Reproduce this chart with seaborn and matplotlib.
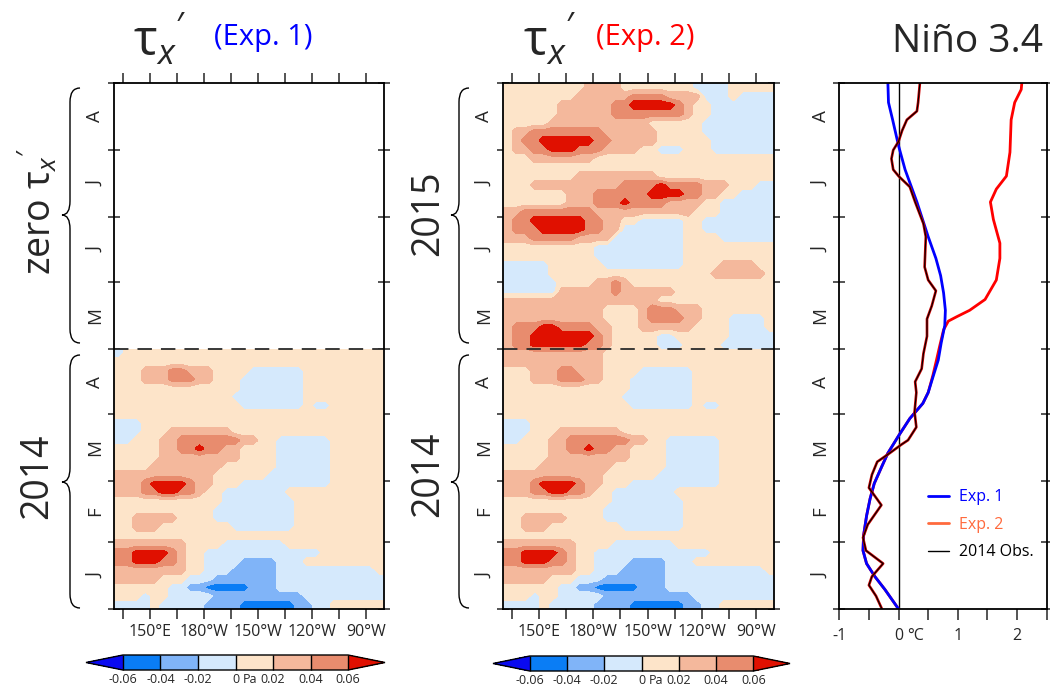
import numpy as np
import matplotlib
matplotlib.use("Agg")
import matplotlib.pyplot as plt
import seaborn as sns
from matplotlib.colors import ListedColormap
from matplotlib.lines import Line2D
from matplotlib.path import Path
from matplotlib.patches import PathPatch

sns.set_theme(style="ticks")
plt.rcParams['font.family'] = ['Open Sans', 'DejaVu Sans']
plt.rcParams['mathtext.fontset'] = 'custom'
plt.rcParams['mathtext.rm'] = 'Open Sans'
plt.rcParams['mathtext.it'] = 'Open Sans:italic'
plt.rcParams['axes.edgecolor'] = 'black'
plt.rcParams['axes.linewidth'] = 1.3

# ---------------- data ----------------
month_edges = [0, 31, 59, 90, 120, 151, 181, 212, 243]      # days on the time axis
month_labels = ['J', 'F', 'M', 'A', 'M', 'J', 'J', 'A']
lon_ticks = [135, 150, 165, 180, 195, 210, 225, 240, 255, 270]
lon_ticklabels = ['', '150°E', '', '180°W', '', '150°W', '', '120°W', '', '90°W']
levels = [-0.06, -0.04, -0.02, 0.0, 0.02, 0.04, 0.06]
level_labels = ['-0.06', '-0.04', '-0.02', '0', '0.02', '0.04', '0.06']
level_colors = ['#0a0af0', '#0a7df5', '#80b4f8', '#d5e9fc',
                '#fde4c9', '#f4b89c', '#e88c6e', '#e01000']

# wind-stress anomaly classes (5 deg lon x ~4 days cells)
code_values = {'d': -0.07, 'c': -0.05, 'b': -0.03, 'a': -0.01,
               '.': 0.01, '1': 0.03, '2': 0.05, '3': 0.07}

# Jan-Apr 2014, rows listed top (late Apr) to bottom (early Jan), 130E -> 80W
taux_2014 = [
    'a.............................',
    '..............................',
    '...11122111....aaaaaa.........',
    '...11122211...aaaaaaa.........',
    '..............aaaaaaa.........',
    '.............aaaaaaaa.........',
    '..............aaaaaaa.aa......',
    '..............................',
    'aaa...........................',
    'aaa...1111111.................',
    'aa...11222222211..aaaaaa......',
    '.....112232211....aaaaaa......',
    '.....111111111....aaaaaa......',
    '....11111111......aaaaaa......',
    '11111111111......aaaaaaa......',
    '11123333211...aaaaaaaaaa......',
    '1112233221..aaaaaaa...........',
    '............aaaaaaaa..........',
    '...........aaaaaaaaa..........',
    '..11111....aaaaaaaaa..........',
    '..111........aaaaaaa..........',
    '..............................',
    '11111111....aaaaaaa...........',
    '22333321..aaaaaaaaaaaaa.......',
    '22333221..aaaabbbbaaa.........',
    '11111111..aaabbbbbaaaaaaaaaaa.',
    '11111...aaabbbbbbbaaaaaaaaaaaa',
    '......aabbcccccbbbaaaaaaaaaaaa',
    '...a..aaaaabbbbbbbbbbaaaaaaaaa',
    'aaaa.aaaaabbbbccccccbbaa......',
]

# Exp. 2 differs from Exp. 1 just below the switch (late Apr 2014 rows)
exp2_late_apr_2014 = [
    '11111111111...................',
    '11111111111...................',
]

# May-Aug 2015 in Exp. 2, rows listed top (late Aug) to bottom (early May)
taux_2015_exp2 = [
    '.........1111........aaaa.....',
    '........11111122221111aaa.aaaa',
    '......111111223333321..aaaaaaa',
    '......111111222222221..aaaaaaa',
    '.....11111111111......aaaaaaaa',
    '.1122222222111111.....aaaaaaaa',
    '.1223333332211111......aaaaaaa',
    '.11223332221111..aaa...aaaaaaa',
    '...1111111....................',
    '..............................',
    '........111111111.............',
    '...1111111111222232222111...aaa',
    '.......11122222233332211..aaaa',
    '.......111222322221111..aaaaaa',
    '112222222211111111111...aaaaaa',
    '1223333332211..aaaaa..aaaaaaaa',
    '1222333332211aaaaaaa..aaaaaaaa',
    '111222221111aaaaaaaa....aaaaaa',
    '..........aaaaaaaaaa..........',
    '..........aaaaaaaaaa..........',
    'aaaaa......aaaaaaaaa....1111..',
    'aaaaa..................111111.',
    'aaaaaa....1121................',
    'aaaaaa1111112111111...........',
    '11111111111111111.............',
    '11111111111....1222111........',
    '11111111111....1222211...aaaa.',
    '122233222211...111111....aaaa.',
    '122333333321.....aa......aaaaa',
    '122333333221.....aaa....aaaaaa',
]

# Nino 3.4 anomaly (deg C) against day on the time axis
exp1_days = [0, 9, 15, 21, 27, 34, 43, 51, 58, 66, 72, 80, 88, 95, 100, 108,
             115, 123, 131, 138, 146, 154, 162, 172, 188, 203, 214, 226, 234, 243]
exp1_nino = [0.0, -0.23, -0.40, -0.54, -0.60, -0.59, -0.54, -0.48, -0.41, -0.28,
             -0.18, 0.0, 0.19, 0.41, 0.50, 0.59, 0.67, 0.72, 0.78, 0.79, 0.76,
             0.71, 0.63, 0.50, 0.31, 0.11, 0.0, -0.10, -0.17, -0.18]
exp2_days = [0, 9, 15, 21, 27, 34, 43, 51, 58, 66, 72, 80, 88, 95, 100, 108,
             115, 121, 129, 133, 135, 138, 143, 152, 162, 169, 180, 188, 194,
             200, 211, 226, 234, 240, 243]
exp2_nino = [0.0, -0.23, -0.40, -0.54, -0.60, -0.59, -0.54, -0.48, -0.41, -0.28,
             -0.18, 0.0, 0.19, 0.41, 0.50, 0.58, 0.64, 0.69, 0.76, 0.84, 0.98,
             1.20, 1.46, 1.65, 1.71, 1.71, 1.60, 1.55, 1.65, 1.82, 1.88, 1.90,
             1.96, 2.07, 2.08]
obs_days = [0, 6, 11, 15, 21, 27, 33, 39, 48, 56, 62, 68, 72, 76, 78, 84, 91,
            100, 105, 111, 118, 126, 134, 140, 147, 152, 158, 172, 178, 188,
            195, 200, 203, 208, 212, 216, 221, 226, 230, 234, 243]
obs_nino = [-0.28, -0.38, -0.50, -0.45, -0.26, -0.55, -0.60, -0.52, -0.29, -0.50,
            -0.45, -0.36, -0.15, 0.05, 0.16, 0.30, 0.27, 0.30, 0.28, 0.39, 0.42,
            0.48, 0.48, 0.56, 0.63, 0.50, 0.44, 0.46, 0.42, 0.28, 0.19, 0.0,
            -0.09, -0.12, -0.09, 0.0, 0.06, 0.14, 0.31, 0.33, 0.36]
nino_ticks = [-1, 0, 1, 2]
nino_ticklabels = ['-1', '0', '1', '2']

# ---------------- helpers ----------------
W, H = 1050, 690


def fx(px):
    return px / W


def fy(py):
    return 1 - py / H


def decode(rows):
    rows = [r[:30].ljust(30, '.') for r in rows]
    return np.array([[code_values[c] for c in r] for r in rows[::-1]])


lon_c = np.arange(132.5, 280, 5.0)
lon_p = np.concatenate([[130], lon_c, [280]])

z2014 = decode(taux_2014)
z2014_e2 = z2014.copy()
z2014_e2[-len(exp2_late_apr_2014):] = decode(exp2_late_apr_2014)
z2015 = decode(taux_2015_exp2)
d2014 = 2 + 4.0 * np.arange(z2014.shape[0])
d2015 = 120 + 4.1 * (np.arange(z2015.shape[0]) + 0.5)

cmap = ListedColormap(level_colors[1:-1])
cmap.set_under(level_colors[0])
cmap.set_over(level_colors[-1])

fig = plt.figure(figsize=(10.5, 6.9), dpi=100)
ax1 = fig.add_axes([fx(114), fy(609), fx(270), 526 / H])
ax2 = fig.add_axes([fx(503), fy(609), fx(271), 526 / H])
ax3 = fig.add_axes([fx(839.3), fy(609), fx(207.4), 526 / H])
cax1 = fig.add_axes([fx(86), fy(670), fx(299), 15 / H])
cax2 = fig.add_axes([fx(493), fy(671), fx(297), 15 / H])


def field(ax, z, days, d0, d1):
    zp = np.pad(z, 1, mode='edge')
    dp = np.concatenate([[d0], days, [d1]])
    return ax.contourf(lon_p, dp, zp, levels=levels, cmap=cmap,
                       vmin=-0.06, vmax=0.06, extend='both')


cs1 = field(ax1, z2014, d2014, 0, 120)
cs2 = field(ax2, np.vstack([z2014_e2, z2015]),
            np.concatenate([d2014, d2015]), 0, 243)

mids = [(a + b) / 2 for a, b in zip(month_edges[:-1], month_edges[1:])]

for ax in (ax1, ax2):
    ax.set_xlim(130, 280)
    ax.set_ylim(0, 243)
    ax.set_xticks(lon_ticks)
    ax.set_xticklabels(lon_ticklabels, fontsize=11.5)
    ax.tick_params(axis='x', which='major', top=True, bottom=True,
                   direction='out', length=7.5, width=1.1, pad=3)
    ax.axhline(120, color='#2a2a2a', lw=1.3, dashes=(8, 5))

for ax in (ax1, ax2, ax3):
    ax.set_ylim(0, 243)
    ax.set_yticks(month_edges)
    ax.set_yticklabels([])
    ax.set_yticks(mids, minor=True)
    ax.set_yticklabels(month_labels, minor=True, rotation=90, va='center',
                       fontsize=13.5)
    ax.tick_params(axis='y', which='major', left=True, right=True,
                   direction='inout', length=8, width=1.1)
    ax.tick_params(axis='y', which='minor', left=False, right=False,
                   length=0, pad=7)
    ax.grid(False)
    for s in ax.spines.values():
        s.set_visible(True)
        s.set_color('black')

# ---- Nino 3.4 panel ----
ax3.axvline(0, color='black', lw=1)
sns.lineplot(x=exp2_nino, y=exp2_days, orient='y', sort=False, estimator=None,
             ax=ax3, color='#ff0000', lw=2)
sns.lineplot(x=exp1_nino, y=exp1_days, orient='y', sort=False, estimator=None,
             ax=ax3, color='#0000ff', lw=2)
sns.lineplot(x=obs_nino, y=obs_days, orient='y', sort=False, estimator=None,
             ax=ax3, color='#cc0000', lw=1.9)
sns.lineplot(x=obs_nino, y=obs_days, orient='y', sort=False, estimator=None,
             ax=ax3, color='black', lw=0.8)
ax3.set_xlim(-1, 2.5)
ax3.set_xticks(nino_ticks)
ax3.set_xticklabels(nino_ticklabels, fontsize=11.5)
ax3.set_xticks([-0.5, 0.5, 1.5, 2.5], minor=True)
ax3.tick_params(axis='x', which='both', bottom=True, top=False,
                direction='out', length=8, width=1.1, pad=6)
ax3.set_xlabel('')
ax3.set_ylabel('')
ax3.annotate('°C', xy=(0, 0), xycoords=('data', 'axes fraction'),
             xytext=(6, -14), textcoords='offset points', ha='left',
             va='top', fontsize=11.5)
handles = [Line2D([], [], color='#0000ff', lw=2),
           Line2D([], [], color='#ff6a3d', lw=2),
           Line2D([], [], color='black', lw=1)]
ax3.legend(handles, ['Exp. 1', 'Exp. 2', '2014 Obs.'], loc='upper left',
           bbox_to_anchor=(0.36, 0.255), frameon=False, fontsize=11.5,
           handlelength=1.3, handletextpad=0.6, labelspacing=0.72,
           labelcolor=['#0000ff', '#ff6a3d', 'black'])

# ---- colour bars ----
for cax, cs in ((cax1, cs1), (cax2, cs2)):
    cb = fig.colorbar(cs, cax=cax, orientation='horizontal',
                      extendfrac=0.164, drawedges=True)
    cb.set_ticks(levels)
    cb.set_ticklabels(level_labels, fontsize=9)
    cb.ax.tick_params(length=0, pad=2)
    cb.outline.set_linewidth(1)
    cb.dividers.set_linewidth(1)
    cax.annotate('Pa', xy=(0, 0), xycoords=('data', 'axes fraction'),
                 xytext=(5, -2), textcoords='offset points', ha='left',
                 va='top', fontsize=9)

# ---- titles and side labels ----
tau = r"$\mathrm{\tau}_{x}{}'$"
fig.text(fx(160), fy(40), tau, fontsize=36, ha='center', va='center')
fig.text(fx(263), fy(38), '(Exp. 1)', fontsize=21, color='#0000ff',
         ha='center', va='center')
fig.text(fx(550), fy(40), tau, fontsize=36, ha='center', va='center')
fig.text(fx(645), fy(38), '(Exp. 2)', fontsize=21, color='#ff0000',
         ha='center', va='center')
fig.text(fx(968), fy(42), 'Niño 3.4', fontsize=28, ha='center', va='center')

fig.text(fx(37), fy(212), "zero " + tau, fontsize=27, rotation=90,
         ha='center', va='center')
fig.text(fx(37), fy(476), '2014', fontsize=27, rotation=90,
         ha='center', va='center')
fig.text(fx(428), fy(213), '2015', fontsize=27, rotation=90,
         ha='center', va='center')
fig.text(fx(428), fy(474), '2014', fontsize=27, rotation=90,
         ha='center', va='center')


def brace(x_tip, x_body, x_end, y0, y1, ym):
    d = 14
    pts = [(x_end, y0), (x_body, y0), (x_body, y0 + d),
           (x_body, ym - d), (x_body, ym), (x_tip, ym),
           (x_body, ym), (x_body, ym + d),
           (x_body, y1 - d), (x_body, y1), (x_end, y1)]
    codes = [Path.MOVETO, Path.CURVE3, Path.CURVE3, Path.LINETO,
             Path.CURVE3, Path.CURVE3, Path.CURVE3, Path.CURVE3,
             Path.LINETO, Path.CURVE3, Path.CURVE3]
    p = Path([(fx(x), fy(y)) for x, y in pts], codes)
    fig.patches.append(PathPatch(p, transform=fig.transFigure, fill=False,
                                 lw=1, color='black'))


brace(62, 70, 80, 88, 343, 215)
brace(62, 70, 80, 355, 608, 482)
brace(451, 459, 469, 88, 343, 215)
brace(451, 459, 469, 355, 608, 482)

fig.savefig('out.png', dpi=100)
